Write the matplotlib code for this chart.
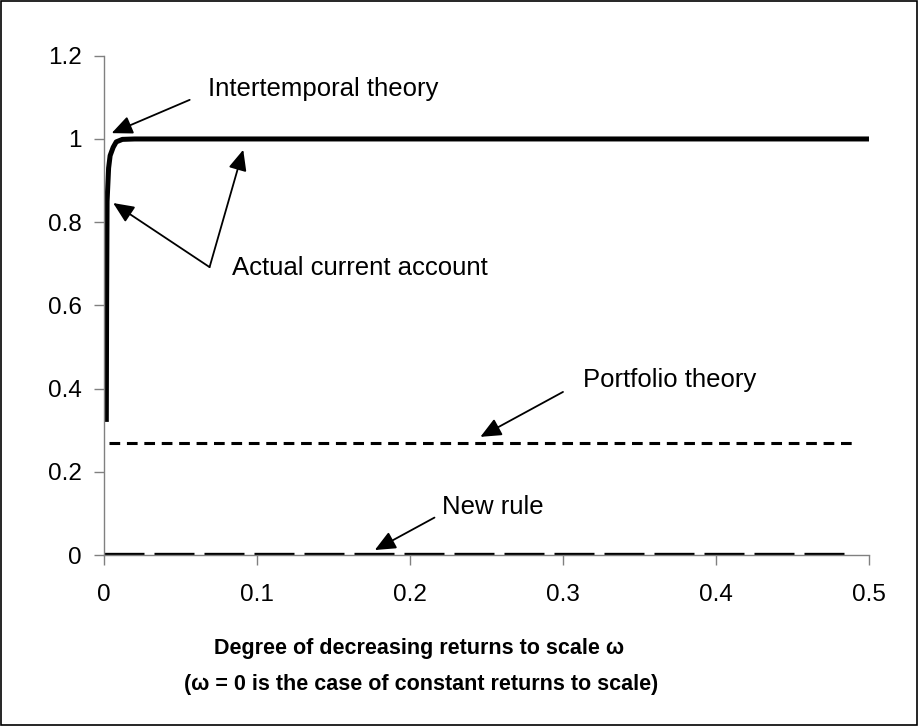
import matplotlib.pyplot as plt
from matplotlib.patches import Rectangle

plt.rcParams['font.family'] = ['Liberation Sans', 'DejaVu Sans']

# Дані
omega_actual = [0.0015, 0.0017, 0.002, 0.003, 0.004, 0.006, 0.008, 0.012, 0.02, 0.1, 0.2, 0.3, 0.4, 0.5]
actual_ca = [0.32, 0.6, 0.85, 0.93, 0.96, 0.98, 0.993, 0.999, 1.0, 1.0, 1.0, 1.0, 1.0, 1.0]

omega_port = [0.003, 0.49]
portfolio = [0.27, 0.27]

omega_new = [0.0, 0.49]
new_rule = [0.003, 0.003]

x_ticks = [0, 0.1, 0.2, 0.3, 0.4, 0.5]
x_tick_labels = ['0', '0.1', '0.2', '0.3', '0.4', '0.5']
y_ticks = [0, 0.2, 0.4, 0.6, 0.8, 1.0, 1.2]
y_tick_labels = ['0', '0.2', '0.4', '0.6', '0.8', '1', '1.2']

fig = plt.figure(figsize=(9.18, 7.26), dpi=100)
ax = fig.add_axes([0.1133, 0.2355, 0.8333, 0.6877])

# Криві
ax.plot(omega_actual, actual_ca, color='black', linewidth=3.6, solid_capstyle='butt')
ax.plot(omega_port, portfolio, color='black', linewidth=2.2, dashes=(3.5, 2.2))
ax.plot(omega_new, new_rule, color='black', linewidth=2.4, dashes=(12, 3))

# Осі
ax.set_xlim(0, 0.5)
ax.set_ylim(0, 1.2)
ax.set_xticks(x_ticks)
ax.set_xticklabels(x_tick_labels)
ax.set_yticks(y_ticks)
ax.set_yticklabels(y_tick_labels)
ax.tick_params(direction='out', length=7, width=1, color='#808080', labelsize=17.5)
ax.tick_params(axis='y', pad=9)
ax.tick_params(axis='x', pad=14)

for s in ['top', 'right']:
    ax.spines[s].set_visible(False)
for s in ['left', 'bottom']:
    ax.spines[s].set_color('#808080')
    ax.spines[s].set_linewidth(1)

# Підпис осі X
fig.text(0.457, 0.1074, 'Degree of decreasing returns to scale ω',
         fontsize=15.5, fontweight='bold', ha='center', va='center')
fig.text(0.459, 0.0565, '(ω = 0 is the case of constant returns to scale)',
         fontsize=15.5, fontweight='bold', ha='center', va='center')

# Анотації
fs = 18.5
arrow = dict(arrowstyle='-|>,head_length=0.9,head_width=0.4', color='black', lw=1.3,
             shrinkA=0, shrinkB=0, mutation_scale=14)
ax.text(0.068, 1.12, 'Intertemporal theory', fontsize=fs, va='center', ha='left')
ax.annotate('', xy=(0.005, 1.014), xytext=(0.056, 1.094), arrowprops=arrow)
ax.text(0.0837, 0.69, 'Actual current account', fontsize=fs, va='center', ha='left')
ax.annotate('', xy=(0.006, 0.846), xytext=(0.069, 0.692), arrowprops=arrow)
ax.annotate('', xy=(0.091, 0.974), xytext=(0.069, 0.692), arrowprops=arrow)
ax.text(0.313, 0.42, 'Portfolio theory', fontsize=fs, va='center', ha='left')
ax.annotate('', xy=(0.246, 0.284), xytext=(0.300, 0.392), arrowprops=arrow)
ax.text(0.221, 0.115, 'New rule', fontsize=fs, va='center', ha='left')
ax.annotate('', xy=(0.177, 0.012), xytext=(0.216, 0.09), arrowprops=arrow)

fig.patches.append(Rectangle((0.001, 0.001), 0.998, 0.998, transform=fig.transFigure,
                             fill=False, edgecolor='black', linewidth=1.2))

fig.savefig('out.png', dpi=100)
